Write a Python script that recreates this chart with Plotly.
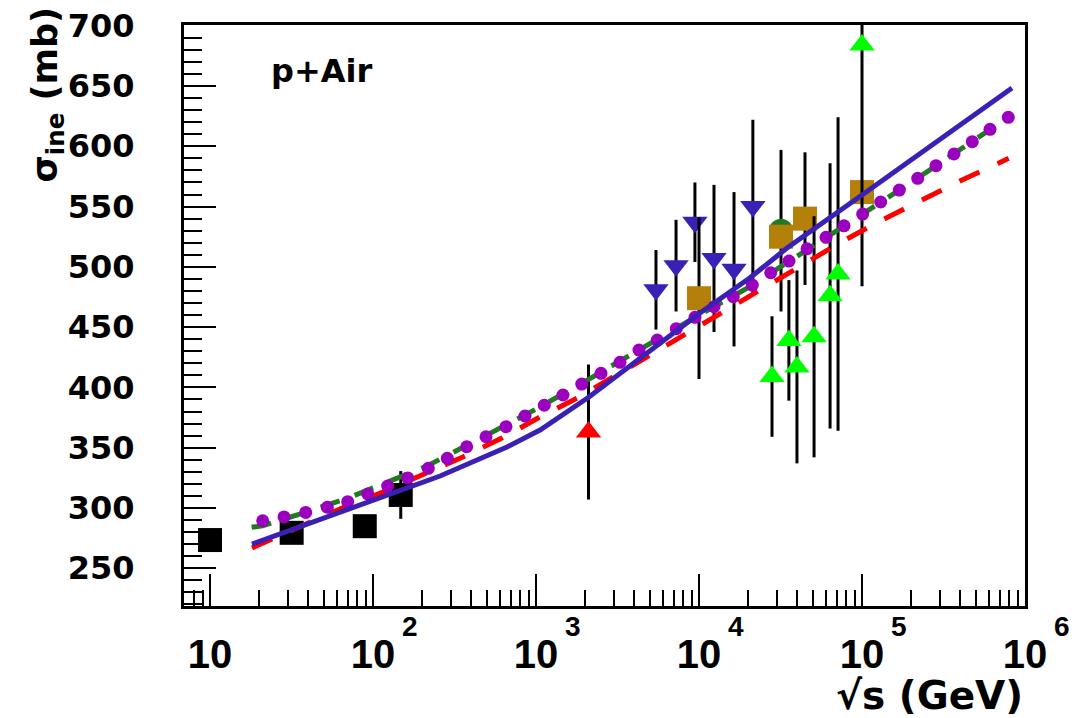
import math
import plotly.graph_objects as go

# ---------------- data ----------------
# black squares
blk_x = [10, 31.7, 89, 148]
blk_y = [273.4, 279.4, 284.9, 310.8]
blk_err = [0, 0, 0, 19.8]

# red up-triangle
red_tri_x = [2100]
red_tri_y = [363]
red_tri_err = [56]

# blue down-triangles
blue_dn_x = [5445, 7230, 9440, 12360, 16400, 21400]
blue_dn_y = [481, 501, 537, 507, 498, 550]
blue_dn_err = [33, 38, 33, 61, 64, 72]

# dark green circle
dg_circ_x = [31850]
dg_circ_y = [530]
dg_circ_err = [67]

# brown squares
brown_x = [10000, 31850, 44700, 100000]
brown_y = [474, 525, 540, 562]
brown_err = [67, 0, 55, 0]

# light green up-triangles
green_tri_x = [28050, 35600, 39900, 50800, 63700, 71300, 100000]
green_tri_y = [409, 439, 417, 442, 476, 494, 684]
green_tri_err = [50, 50, 80, 100, 110, 130, 200]

# model curves
blue_curve_x = [18.1, 39.4, 100, 258, 664, 1059, 2113, 4864, 10140, 20560,
                34670, 100000, 171000, 832000]
blue_curve_y = [270.1, 286.7, 305.8, 326.5, 350.6, 364.7, 392.0, 429.4, 461.7,
                491.0, 515.6, 559.6, 582.0, 648.3]

red_curve_x = [18.1, 64.6, 115, 203, 356, 618, 1059, 1837, 5370, 9057, 15700,
               26120, 44670, 76380, 132700, 230100, 399000, 691800, 794000]
red_curve_y = [266.8, 300.0, 313.2, 327.3, 342.3, 358.0, 375.5, 392.0, 429.4,
               446.8, 465.9, 484.1, 503.2, 521.4, 538.8, 555.4, 571.2, 586.1,
               590.0]

green_curve_x = [18, 21, 36, 67, 119, 210, 500, 1000, 2000, 5000, 10000, 20000,
                 50000, 100000, 200000, 500000, 830000]
green_curve_y = [284.0, 285.3, 295.2, 307.2, 320.7, 334.2, 360.6, 382.0, 405.0,
                 436.5, 460.0, 482.7, 518.0, 543.5, 570.0, 606.0, 626.0]

purple_x = [21.05, 28.44, 38.65, 52.44, 69.95, 92.8, 123.1, 163.3, 218.4, 285.7,
            375.6, 493.5, 654.6, 855.9, 1124, 1464, 1908, 2505, 3276, 4284,
            5548, 7256, 9452, 12360, 16230, 21230, 27540, 35660, 45980, 60150,
            77560, 101000, 130200, 169400, 219700, 284400, 366800, 475000,
            610200, 789700]
purple_y = [289.4, 292.6, 296.3, 300.6, 305.2, 311.6, 318.2, 324.9, 332.9, 341.2,
            350.8, 359.1, 367.4, 376.3, 385.2, 393.7, 402.8, 411.7, 420.8, 431.0,
            439.3, 448.7, 458.1, 466.9, 475.2, 484.9, 495.1, 504.8, 515.0, 524.5,
            534.0, 543.8, 553.8, 563.7, 573.4, 583.9, 593.6, 603.8, 614.1, 624.0]

# axis ticks
x_tick_vals = [10, 100, 1000, 10000, 100000, 1000000]
x_tick_text = ["10", "10", "10", "10", "10", "10"]
x_tick_exp = ["", "2", "3", "4", "5", "6"]
x_minor_vals = [m * 10 ** k for k in range(0, 6) for m in range(2, 10)]

# ---------------- figure ----------------
BLUE = "#3B20B6"
PURPLE = "#9B00BF"
DGREEN = "#227A22"
BROWN = "#B5800A"
LIME = "#00FF00"
RED = "#FF0000"

fig = go.Figure()


def pts(x, y, err, symbol, color, size):
    fig.add_trace(go.Scatter(
        x=x, y=y, mode="markers",
        marker=dict(symbol=symbol, color=color, size=size, line=dict(width=0)),
        error_y=dict(type="data", array=err, visible=True, color="black",
                     thickness=3, width=0),
        showlegend=False, hoverinfo="skip"))


pts(blk_x, blk_y, blk_err, "square", "black", 24)
pts(red_tri_x, red_tri_y, red_tri_err, "triangle-up", RED, 22)
pts(blue_dn_x, blue_dn_y, blue_dn_err, "triangle-down", BLUE, 22)
pts(dg_circ_x, dg_circ_y, dg_circ_err, "circle", DGREEN, 24)
pts(brown_x, brown_y, brown_err, "square", BROWN, 24)
pts(green_tri_x, green_tri_y, green_tri_err, "triangle-up", LIME, 22)

fig.add_trace(go.Scatter(x=red_curve_x, y=red_curve_y, mode="lines",
                         line=dict(color=RED, width=5, dash="22px,20px"),
                         showlegend=False, hoverinfo="skip"))
fig.add_trace(go.Scatter(x=green_curve_x, y=green_curve_y, mode="lines",
                         line=dict(color=DGREEN, width=5, dash="20px,16px"),
                         showlegend=False, hoverinfo="skip"))
fig.add_trace(go.Scatter(x=purple_x, y=purple_y, mode="markers",
                         marker=dict(symbol="circle", color=PURPLE, size=13,
                                     line=dict(width=0)),
                         showlegend=False, hoverinfo="skip"))
fig.add_trace(go.Scatter(x=blue_curve_x, y=blue_curve_y, mode="lines",
                         line=dict(color=BLUE, width=5),
                         showlegend=False, hoverinfo="skip"))

fig.update_layout(
    width=1072, height=718,
    margin=dict(l=184, r=47, t=25, b=112, autoexpand=False),
    paper_bgcolor="white", plot_bgcolor="white",
    font=dict(family="DejaVu Sans", color="black"),
    showlegend=False,
)

fig.update_xaxes(
    type="log", range=[0.8405, 6.0],
    showgrid=False, zeroline=False,
    showline=True, linecolor="black", linewidth=3, mirror=True,
    ticks="inside", ticklen=32, tickwidth=1.5, tickcolor="black",
    tickmode="array", tickvals=x_tick_vals, ticktext=x_tick_text,
    tickfont=dict(family="Liberation Sans", size=40, weight="bold", color="black"),
    ticklabelstandoff=11,
    minor=dict(tickmode="array", tickvals=x_minor_vals, ticks="inside",
               ticklen=16, tickwidth=1.5, tickcolor="black", showgrid=False),
    automargin=False,
)
fig.update_yaxes(
    range=[218.7, 700.6],
    showgrid=False, zeroline=False,
    showline=True, linecolor="black", linewidth=3, mirror=True,
    ticks="inside", ticklen=32, tickwidth=1.5, tickcolor="black",
    tick0=0, dtick=50,
    tickfont=dict(family="DejaVu Sans", size=32, weight="bold", color="black"),
    ticklabelstandoff=40,
    minor=dict(dtick=10, ticks="inside", ticklen=18, tickwidth=1.5,
               tickcolor="black", showgrid=False),
    automargin=False,
)

# exponents of the x tick labels (raised, to the right of "10")
for v, e in zip(x_tick_vals, x_tick_exp):
    if e:
        fig.add_annotation(text=e, xref="x", yref="paper",
                           x=math.log10(v), y=0.0, xshift=37, yshift=-20,
                           xanchor="center", yanchor="middle", showarrow=False,
                           font=dict(family="Liberation Sans", size=28,
                                     weight="bold", color="black"))

fig.add_annotation(text="p+Air", xref="paper", yref="paper",
                   x=0.163, y=0.921, xanchor="center", yanchor="middle",
                   showarrow=False,
                   font=dict(family="DejaVu Sans", size=32, weight="bold",
                             color="black"))
fig.add_annotation(text="σ<sub>ine</sub> (mb)", xref="paper", yref="paper",
                   x=-0.162, y=0.88, xanchor="center", yanchor="middle",
                   textangle=-90, showarrow=False,
                   font=dict(family="DejaVu Sans", size=35, weight="bold",
                             color="black"))
fig.add_annotation(text="√s (GeV)", xref="paper", yref="paper",
                   x=1.0, y=0.0, xanchor="right", yanchor="top", yshift=-65,
                   showarrow=False,
                   font=dict(family="DejaVu Sans", size=39, weight="bold",
                             color="black"))

fig.write_html("out.html")
